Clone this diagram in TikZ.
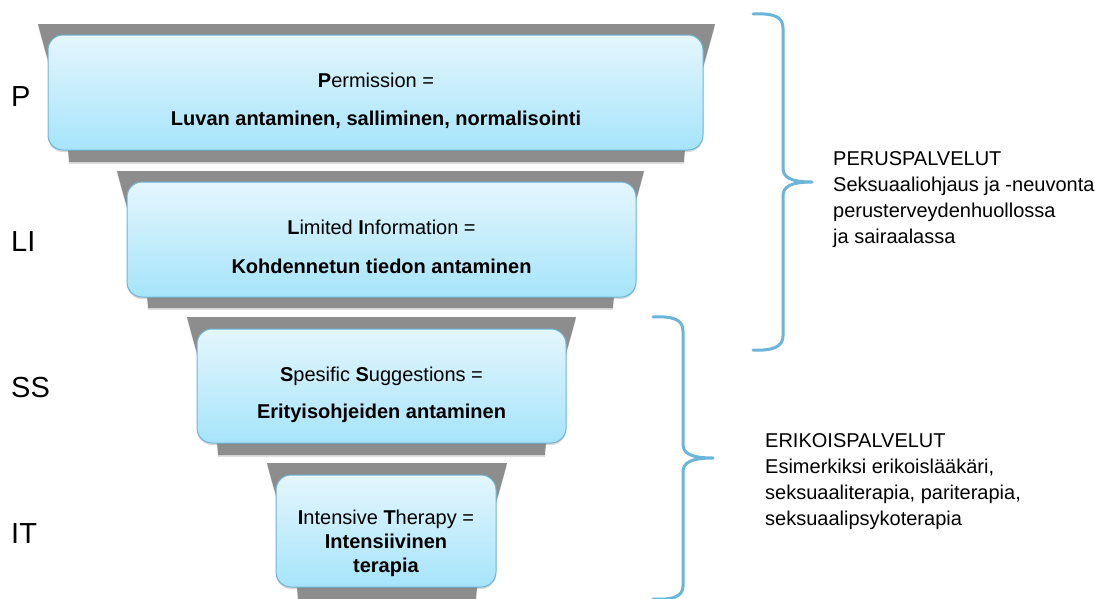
\documentclass[tikz,border=0pt]{standalone}
\usepackage{fontspec}
\setmainfont{Liberation Sans}
\usetikzlibrary{shadows,calc}
\definecolor{greyband}{RGB}{141,141,141}
\definecolor{boxtop}{RGB}{228,246,253}
\definecolor{boxbot}{RGB}{166,228,251}
\definecolor{boxedge}{RGB}{110,180,215}
\definecolor{bracecol}{RGB}{107,180,218}
\newcommand{\greybandshape}[4]{%
  \fill[greyfill] (#1,#3) -- (#2,#3) .. controls +(-12,46) and +(2,-42) .. (#2-31,#4)
    -- (#1+31,#4) .. controls +(-2,-42) and +(12,46) .. cycle;}
\tikzset{
  greyfill/.style={fill=greyband, drop shadow={shadow xshift=0pt, shadow yshift=-2pt, opacity=0.25}},
  bluebox/.style={draw=boxedge, line width=1pt, rounded corners=15pt, top color=boxtop, bottom color=boxbot,
    inner sep=0pt, drop shadow={shadow xshift=0pt, shadow yshift=-2pt, opacity=0.3}},
  boxtxt/.style={font=\fontsize{20}{24}\selectfont, inner sep=0pt, anchor=base},
  lvl/.style={font=\fontsize{29}{34}\selectfont, inner sep=0pt, anchor=base west},
  sidetxt/.style={font=\fontsize{20}{25.7}\selectfont, inner sep=0pt, anchor=base west, align=left},
  bracestyle/.style={draw=bracecol, line width=3pt, line cap=round, line join=round}
}
\begin{document}
\begin{tikzpicture}[x=1pt,y=-1pt]
\useasboundingbox (0,0) rectangle (1095,598);
\fill[white] (0,0) rectangle (1095,598);
% grey bands
\greybandshape{38}{715}{24}{162}
\greybandshape{117}{644}{171}{308}
\greybandshape{187}{576}{317}{455}
\greybandshape{267}{507}{463}{600}
% blue boxes
\node[bluebox, minimum width=655pt, minimum height=115pt] (b1) at (375.5,92.5) {};
\node[bluebox, minimum width=509pt, minimum height=115pt] (b2) at (381.5,239.5) {};
\node[bluebox, minimum width=369pt, minimum height=114pt] (b3) at (381.5,386) {};
\node[bluebox, minimum width=220pt, minimum height=112pt] (b4) at (386,531) {};
% box texts
\node[boxtxt] (t1a) at (376,87) {\textbf{P}ermission =};
\node[boxtxt] (t1b) at (376,125) {\textbf{Luvan antaminen, salliminen, normalisointi}};
\node[boxtxt] (t2a) at (381.5,234) {\textbf{L}imited \textbf{I}nformation =};
\node[boxtxt] (t2b) at (381.5,273) {\textbf{Kohdennetun tiedon antaminen}};
\node[boxtxt] (t3a) at (381.5,381) {\textbf{S}pesific \textbf{S}uggestions =};
\node[boxtxt] (t3b) at (381.5,418) {\textbf{Erityisohjeiden antaminen}};
\node[boxtxt] (t4a) at (386,524) {\textbf{I}ntensive \textbf{T}herapy =};
\node[boxtxt] (t4b) at (386,548) {\textbf{Intensiivinen}};
\node[boxtxt] (t4c) at (386,572) {\textbf{terapia}};
% level labels
\node[lvl] (lp) at (11,106) {P};
\node[lvl] (lli) at (11,251) {LI};
\node[lvl] (lss) at (11,397) {SS};
\node[lvl] (lit) at (11,543) {IT};
% braces
\draw[bracestyle] (753,14) .. controls (772,13) and (783,16) .. (783,28) -- (783,168)
  .. controls (783,177) and (790,182) .. (812,182)
  .. controls (790,182) and (783,187) .. (783,196) -- (783,336)
  .. controls (783,347) and (772,351) .. (753,350);
\draw[bracestyle] (653,317) .. controls (672,316) and (683,319) .. (683,331) -- (683,444)
  .. controls (683,453) and (690,458) .. (713,458)
  .. controls (690,458) and (683,463) .. (683,472) -- (683,586)
  .. controls (683,597) and (672,600) .. (653,599);
% side texts (anchored at the baseline of their last line)
\node[sidetxt] (s1) at (833,243) {PERUSPALVELUT\\Seksuaaliohjaus ja -neuvonta\\perusterveydenhuollossa\\ja sairaalassa};
\node[sidetxt] (s2) at (765,525) {ERIKOISPALVELUT\\Esimerkiksi erikoislääkäri,\\seksuaaliterapia, pariterapia,\\seksuaalipsykoterapia};
\end{tikzpicture}
\end{document}
